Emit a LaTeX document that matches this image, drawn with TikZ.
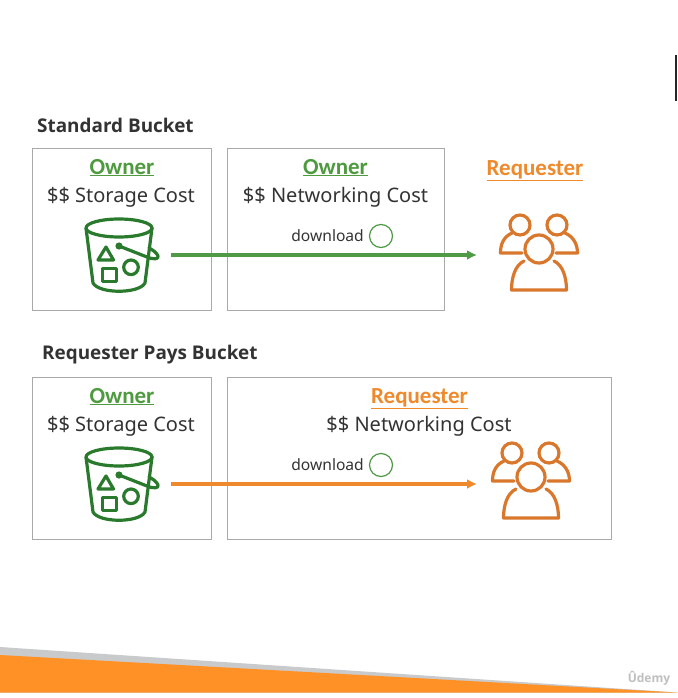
\documentclass[tikz,border=0pt]{standalone}
\usepackage{fontspec}
\setmainfont{Noto Sans}
\newfontfamily\tagfont{Carlito}
\newfontfamily\headfont{Open Sans}
\usetikzlibrary{arrows.meta}
\definecolor{boxgray}{HTML}{A9A9A9}
\definecolor{txtdark}{HTML}{333333}
\definecolor{ownergreen}{HTML}{4E9B3F}
\definecolor{iconfgreen}{HTML}{2A7A2E}
\definecolor{arrowgreen}{HTML}{4F9A45}
\definecolor{reqorange}{HTML}{EE8A2C}
\definecolor{peopleorange}{HTML}{D9782D}
\definecolor{bandorange}{HTML}{FF9126}
\definecolor{bandgray}{HTML}{C9CACB}
\newcommand{\ulined}[1]{\underline{#1}}
\tikzset{
  x=1pt,y=-1pt,
  panel/.style={draw=boxgray,line width=1.4pt},
  heading/.style={text=txtdark,font=\headfont\fontsize{18.9}{22}\selectfont\bfseries,inner sep=0pt,anchor=base west},
  costline/.style={text=txtdark,font=\fontsize{20}{24}\selectfont,inner sep=0pt,anchor=base},
  ownertag/.style={text=ownergreen,font=\tagfont\fontsize{23}{26}\selectfont\bfseries,inner sep=0pt,anchor=base},
  reqtag/.style={text=reqorange,font=\tagfont\fontsize{23}{26}\selectfont\bfseries,inner sep=0pt,anchor=base},
  dl/.style={text=txtdark,font=\fontsize{15.6}{18}\selectfont,inner sep=0pt,anchor=base east},
  okring/.style={draw=arrowgreen,line width=1.2pt,circle,minimum size=23pt,inner sep=0pt},
  flow/.style={line width=3.1pt,-{Latex[length=10pt,width=10pt]}},
  pics/bucket/.style={code={
    \begin{scope}[draw=iconfgreen,line width=3.2pt,line join=round,line cap=round]
      \draw (0,-26) ellipse [x radius=33,y radius=9];
      \draw (-33,-26) -- (-26,29) .. controls (-20,40) and (20,40) .. (26,29) -- (33,-26);
      \draw (0,-8) -- (28,3) .. controls (35,6) and (40,5) .. (39,2) .. controls (38,-1) and (34,-4) .. (30,-6);
      \fill[iconfgreen] (0,-8) circle [radius=3.6];
      \draw (-13,-7) -- (-21,6) -- (-5.5,6) -- cycle;
      \draw (-16.3,14.3) rectangle (-2.3,27.7);
      \draw (12,13.3) circle [radius=7.3];
    \end{scope}}},
  pics/people/.style={code={
    \begin{scope}[draw=peopleorange,line width=3.2pt,line join=round,line cap=round]
      \draw (-19,-25) circle [radius=10];
      \draw (18,-25) circle [radius=10];
      \draw (0,-1) circle [radius=14];
      \draw (-27,-17) .. controls (-36,-13) and (-38.5,-5) .. (-38.5,3) -- (-17,3);
      \draw (26,-17) .. controls (35,-13) and (38.5,-5) .. (38.5,3) -- (17,3);
      \draw (-15,11) .. controls (-24,15) and (-27.5,28) .. (-27.5,40) -- (27.5,40) .. controls (27.5,28) and (24,15) .. (15,11);
    \end{scope}}}
}
\begin{document}
\begin{tikzpicture}
\useasboundingbox (0,0) rectangle (677,698);
\fill[white] (0,0) rectangle (677,698);
% decoration
\fill[bandgray] (0,647) -- (677,692.5) -- (0,692.5) -- cycle;
\fill[bandorange] (0,655) -- (677,692.5) -- (0,692.5) -- cycle;
\fill[black!85] (674.5,55) rectangle (677,101);
\node[text=black!25,font=\headfont\fontsize{12}{14}\selectfont\bfseries,inner sep=0pt] (brand) at (649,678) {Ûdemy};
% top row
\node[heading] (std) at (37,132.5) {Standard Bucket};
\node[panel,minimum width=179pt,minimum height=162pt,anchor=north west,inner sep=0pt] (boxa) at (32,148) {};
\node[panel,minimum width=217pt,minimum height=162pt,anchor=north west,inner sep=0pt] (boxb) at (227,148) {};
\node[ownertag] (owa) at (122,174) {\ulined{Owner}};
\node[costline] (coa) at (121,202) {\$\$ Storage Cost};
\node[ownertag] (owb) at (335.5,174) {\ulined{Owner}};
\node[costline] (cob) at (335.5,202) {\$\$ Networking Cost};
\node[reqtag] (rqa) at (535,175) {\ulined{Requester}};
\node[dl] (dla) at (364,241) {download};
\node[okring] (oka) at (381,236) {};
\pic at (119,254) {bucket};
\pic at (539,250) {people};
\coordinate (sa) at (171,255);
\coordinate (ea) at (477,255);
\draw[flow,arrowgreen] (sa) -- (ea);
% bottom row
\node[heading] (rp) at (42,359) {Requester Pays Bucket};
\node[panel,minimum width=179pt,minimum height=162pt,anchor=north west,inner sep=0pt] (boxc) at (32,377) {};
\node[panel,minimum width=384pt,minimum height=162pt,anchor=north west,inner sep=0pt] (boxd) at (227,377) {};
\node[ownertag] (owc) at (122,403) {\ulined{Owner}};
\node[costline] (coc) at (121,431) {\$\$ Storage Cost};
\node[reqtag] (rqb) at (419.5,403) {\ulined{Requester}};
\node[costline] (cod) at (419,431) {\$\$ Networking Cost};
\node[dl] (dlb) at (364,470) {download};
\node[okring] (okb) at (381,465) {};
\pic at (119,483) {bucket};
\pic at (531,478) {people};
\coordinate (sb) at (171,484);
\coordinate (eb) at (477,484);
\draw[flow,reqorange] (sb) -- (eb);
\end{tikzpicture}
\end{document}
